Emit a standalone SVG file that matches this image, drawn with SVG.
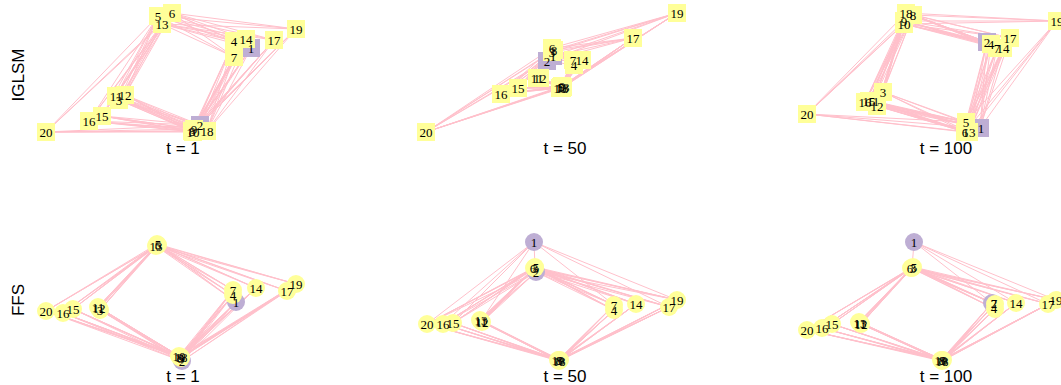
<svg xmlns="http://www.w3.org/2000/svg" width="1061" height="385" viewBox="0 0 1061 385">
<style>
.e{fill:none;stroke:#FFC0CB;stroke-width:1}
.y{fill:#FFFF99}
.v{fill:#BEAED4}
.n{font-family:"Liberation Serif","Times New Roman",serif;font-size:13px;text-anchor:middle;fill:#000}
.t{font-family:"Liberation Sans",Arial,sans-serif;font-size:17px;text-anchor:middle;fill:#000}
</style>
<rect width="1061" height="385" fill="#fff"/>
<text class="t" transform="translate(24,75) rotate(-90)">IGLSM</text>
<text class="t" transform="translate(24,300) rotate(-90)">FFS</text>
<text class="t" x="183" y="154">t = 1</text>
<text class="t" x="565" y="154">t = 50</text>
<text class="t" x="946" y="154">t = 100</text>
<text class="t" x="183" y="382">t = 1</text>
<text class="t" x="565" y="382">t = 50</text>
<text class="t" x="946" y="382">t = 100</text>
<g id="connectors" class="e">
<path d="M251,48L158,16L119,100M234,41L158,16L234,57M116,96L158,16L125,95M246,39L158,16L102,116M89,121L158,16L274,40M296,29L158,16L46,132"/>
<path d="M251,48L172,13L119,100M234,41L172,13L234,57M116,96L172,13L125,95M246,39L172,13L102,116M89,121L172,13L274,40M296,29L172,13L46,132"/>
<path d="M251,48L162,24L119,100M234,41L162,24L234,57M116,96L162,24L125,95M246,39L162,24L102,116M89,121L162,24L274,40M296,29L162,24L46,132"/>
<path d="M251,48L200,125L119,100M234,41L200,125L234,57M116,96L200,125L125,95M246,39L200,125L102,116M89,121L200,125L274,40M296,29L200,125L46,132"/>
<path d="M251,48L192,131L119,100M234,41L192,131L234,57M116,96L192,131L125,95M246,39L192,131L102,116M89,121L192,131L274,40M296,29L192,131L46,132"/>
<path d="M251,48L194,129L119,100M234,41L194,129L234,57M116,96L194,129L125,95M246,39L194,129L102,116M89,121L194,129L274,40M296,29L194,129L46,132"/>
<path d="M251,48L193,132L119,100M234,41L193,132L234,57M116,96L193,132L125,95M246,39L193,132L102,116M89,121L193,132L274,40M296,29L193,132L46,132"/>
<path d="M251,48L207,131L119,100M234,41L207,131L234,57M116,96L207,131L125,95M246,39L207,131L102,116M89,121L207,131L274,40M296,29L207,131L46,132"/>

<path d="M574,65L553,56L573,60M537,78L553,56L540,78M582,60L553,56L518,88M501,94L553,56L633,38M677,13L553,56L426,132"/>
<path d="M574,65L547,61L573,60M537,78L547,61L540,78M582,60L547,61L518,88M501,94L547,61L633,38M677,13L547,61L426,132"/>
<path d="M574,65L552,52L573,60M537,78L552,52L540,78M582,60L552,52L518,88M501,94L552,52L633,38M677,13L552,52L426,132"/>
<path d="M574,65L552,48L573,60M537,78L552,48L540,78M582,60L552,48L518,88M501,94L552,48L633,38M677,13L552,48L426,132"/>
<path d="M574,65L554,50L573,60M537,78L554,50L540,78M582,60L554,50L518,88M501,94L554,50L633,38M677,13L554,50L426,132"/>
<path d="M574,65L561,87L573,60M537,78L561,87L540,78M582,60L561,87L518,88M501,94L561,87L633,38M677,13L561,87L426,132"/>
<path d="M574,65L562,86L573,60M537,78L562,86L540,78M582,60L562,86L518,88M501,94L562,86L633,38M677,13L562,86L426,132"/>
<path d="M574,65L560,88L573,60M537,78L560,88L540,78M582,60L560,88L518,88M501,94L560,88L633,38M677,13L560,88L426,132"/>
<path d="M574,65L563,87L573,60M537,78L563,87L540,78M582,60L563,87L518,88M501,94L563,87L633,38M677,13L563,87L426,132"/>
<path d="M574,65L562,88L573,60M537,78L562,88L540,78M582,60L562,88L518,88M501,94L562,88L633,38M677,13L562,88L426,132"/>

<path d="M987,42L913,15L883,92M991,44L913,15L997,48M873,101L913,15L877,106M1003,48L913,15L869,101M865,102L913,15L1010,38M1057,21L913,15L807,114"/>
<path d="M987,42L904,21L883,92M991,44L904,21L997,48M873,101L904,21L877,106M1003,48L904,21L869,101M865,102L904,21L1010,38M1057,21L904,21L807,114"/>
<path d="M987,42L904,24L883,92M991,44L904,24L997,48M873,101L904,24L877,106M1003,48L904,24L869,101M865,102L904,24L1010,38M1057,21L904,24L807,114"/>
<path d="M987,42L906,13L883,92M991,44L906,13L997,48M873,101L906,13L877,106M1003,48L906,13L869,101M865,102L906,13L1010,38M1057,21L906,13L807,114"/>
<path d="M987,42L980,128L883,92M991,44L980,128L997,48M873,101L980,128L877,106M1003,48L980,128L869,101M865,102L980,128L1010,38M1057,21L980,128L807,114"/>
<path d="M987,42L966,122L883,92M991,44L966,122L997,48M873,101L966,122L877,106M1003,48L966,122L869,101M865,102L966,122L1010,38M1057,21L966,122L807,114"/>
<path d="M987,42L965,132L883,92M991,44L965,132L997,48M873,101L965,132L877,106M1003,48L965,132L869,101M865,102L965,132L1010,38M1057,21L965,132L807,114"/>
<path d="M987,42L969,132L883,92M991,44L969,132L997,48M873,101L969,132L877,106M1003,48L969,132L869,101M865,102L969,132L1010,38M1057,21L969,132L807,114"/>

<path d="M236,302L157,244L100,310M233,295L157,244L233,290M98,307L157,244L99,308M256,288L157,244L73,309M63,313L157,244L287,291M296,284L157,244L46,311"/>
<path d="M236,302L158,245L100,310M233,295L158,245L233,290M98,307L158,245L99,308M256,288L158,245L73,309M63,313L158,245L287,291M296,284L158,245L46,311"/>
<path d="M236,302L156,246L100,310M233,295L156,246L233,290M98,307L156,246L99,308M256,288L156,246L73,309M63,313L156,246L287,291M296,284L156,246L46,311"/>
<path d="M236,302L182,361L100,310M233,295L182,361L233,290M98,307L182,361L99,308M256,288L182,361L73,309M63,313L182,361L287,291M296,284L182,361L46,311"/>
<path d="M236,302L180,357L100,310M233,295L180,357L233,290M98,307L180,357L99,308M256,288L180,357L73,309M63,313L180,357L287,291M296,284L180,357L46,311"/>
<path d="M236,302L181,358L100,310M233,295L181,358L233,290M98,307L181,358L99,308M256,288L181,358L73,309M63,313L181,358L287,291M296,284L181,358L46,311"/>
<path d="M236,302L179,356L100,310M233,295L179,356L233,290M98,307L179,356L99,308M256,288L179,356L73,309M63,313L179,356L287,291M296,284L179,356L46,311"/>
<path d="M236,302L181,357L100,310M233,295L181,357L233,290M98,307L181,357L99,308M256,288L181,357L73,309M63,313L181,357L287,291M296,284L181,357L46,311"/>

<path d="M614,310L536,272L614,305M481,321L536,272L482,322M480,320L536,272L636,304M453,323L536,272L443,324M669,307L536,272L677,300M427,324L536,272"/>
<path d="M614,310L535,268L614,305M481,321L535,268L482,322M480,320L535,268L636,304M453,323L535,268L443,324M669,307L535,268L677,300M427,324L535,268"/>
<path d="M614,310L535,267L614,305M481,321L535,267L482,322M480,320L535,267L636,304M453,323L535,267L443,324M669,307L535,267L677,300M427,324L535,267"/>
<path d="M614,310L534,268L614,305M481,321L534,268L482,322M480,320L534,268L636,304M453,323L534,268L443,324M669,307L534,268L677,300M427,324L534,268"/>
<path d="M614,310L559,360L614,305M481,321L559,360L482,322M480,320L559,360L636,304M453,323L559,360L443,324M669,307L559,360L677,300M427,324L559,360"/>
<path d="M614,310L560,360L614,305M481,321L560,360L482,322M480,320L560,360L636,304M453,323L560,360L443,324M669,307L560,360L677,300M427,324L560,360"/>
<path d="M614,310L558,360L614,305M481,321L558,360L482,322M480,320L558,360L636,304M453,323L558,360L443,324M669,307L558,360L677,300M427,324L558,360"/>
<path d="M614,310L559,361L614,305M481,321L559,361L482,322M480,320L559,361L636,304M453,323L559,361L443,324M669,307L559,361L677,300M427,324L559,361"/>
<path d="M427,324L534,242L443,324M453,323L534,242L481,321M614,305L534,242L669,307M677,300L534,242L535,267"/>

<path d="M992,303L912,268L995,309M995,304L912,268L860,323M861,324L912,268L859,322M1016,303L912,268L832,324M822,328L912,268L1048,304M1056,300L912,268L807,330"/>
<path d="M992,303L913,267L995,309M995,304L913,267L860,323M861,324L913,267L859,322M1016,303L913,267L832,324M822,328L913,267L1048,304M1056,300L913,267L807,330"/>
<path d="M992,303L911,268L995,309M995,304L911,268L860,323M861,324L911,268L859,322M1016,303L911,268L832,324M822,328L911,268L1048,304M1056,300L911,268L807,330"/>
<path d="M992,303L942,360L995,309M995,304L942,360L860,323M861,324L942,360L859,322M1016,303L942,360L832,324M822,328L942,360L1048,304M1056,300L942,360L807,330"/>
<path d="M992,303L943,360L995,309M995,304L943,360L860,323M861,324L943,360L859,322M1016,303L943,360L832,324M822,328L943,360L1048,304M1056,300L943,360L807,330"/>
<path d="M992,303L941,360L995,309M995,304L941,360L860,323M861,324L941,360L859,322M1016,303L941,360L832,324M822,328L941,360L1048,304M1056,300L941,360L807,330"/>
<path d="M992,303L942,361L995,309M995,304L942,361L860,323M861,324L942,361L859,322M1016,303L942,361L832,324M822,328L942,361L1048,304M1056,300L942,361L807,330"/>
<path d="M1048,304L914,242L1056,300M992,303L914,242L1016,303M914,242L912,268"/>
</g>

<g id="iglsm-t1-nodes">
<g id="a1-n1"><rect class="v" x="242" y="39" width="18" height="18"/></g>
<g id="a1-n2"><rect class="v" x="191" y="116" width="18" height="18"/></g>
<g id="a1-n3"><rect class="y" x="110" y="91" width="18" height="18"/></g>
<g id="a1-n4"><rect class="y" x="225" y="32" width="18" height="18"/></g>
<g id="a1-n5"><rect class="y" x="149" y="7" width="18" height="18"/></g>
<g id="a1-n6"><rect class="y" x="163" y="4" width="18" height="18"/></g>
<g id="a1-n7"><rect class="y" x="225" y="48" width="18" height="18"/></g>
<g id="a1-n8"><rect class="y" x="183" y="122" width="18" height="18"/></g>
<g id="a1-n9"><rect class="y" x="185" y="120" width="18" height="18"/></g>
<g id="a1-n10"><rect class="y" x="184" y="123" width="18" height="18"/></g>
<g id="a1-n11"><rect class="y" x="107" y="87" width="18" height="18"/></g>
<g id="a1-n12"><rect class="y" x="116" y="86" width="18" height="18"/></g>
<g id="a1-n13"><rect class="y" x="153" y="15" width="18" height="18"/></g>
<g id="a1-n14"><rect class="y" x="237" y="30" width="18" height="18"/></g>
<g id="a1-n15"><rect class="y" x="93" y="107" width="18" height="18"/></g>
<g id="a1-n16"><rect class="y" x="80" y="112" width="18" height="18"/></g>
<g id="a1-n17"><rect class="y" x="265" y="31" width="18" height="18"/></g>
<g id="a1-n18"><rect class="y" x="198" y="122" width="18" height="18"/></g>
<g id="a1-n19"><rect class="y" x="287" y="20" width="18" height="18"/></g>
<g id="a1-n20"><rect class="y" x="37" y="123" width="18" height="18"/></g>
</g>
<g id="iglsm-t1-labels" class="n">
<text x="251" y="52.5">1</text><text x="200" y="129.5">2</text><text x="119" y="104.5">3</text><text x="234" y="45.5">4</text>
<text x="158" y="20.5">5</text><text x="172" y="17.5">6</text><text x="234" y="61.5">7</text><text x="192" y="135.5">8</text>
<text x="194" y="133.5">9</text><text x="193" y="136.5">10</text><text x="116" y="100.5">11</text><text x="125" y="99.5">12</text>
<text x="162" y="28.5">13</text><text x="246" y="43.5">14</text><text x="102" y="120.5">15</text><text x="89" y="125.5">16</text>
<text x="274" y="44.5">17</text><text x="207" y="135.5">18</text><text x="296" y="33.5">19</text><text x="46" y="136.5">20</text>
</g>

<g id="iglsm-t50-nodes">
<g id="a2-n1"><rect class="v" x="544" y="47" width="18" height="18"/></g>
<g id="a2-n2"><rect class="v" x="538" y="52" width="18" height="18"/></g>
<g id="a2-n3"><rect class="y" x="543" y="43" width="18" height="18"/></g>
<g id="a2-n4"><rect class="y" x="565" y="56" width="18" height="18"/></g>
<g id="a2-n5"><rect class="y" x="552" y="78" width="18" height="18"/></g>
<g id="a2-n6"><rect class="y" x="543" y="39" width="18" height="18"/></g>
<g id="a2-n7"><rect class="y" x="564" y="51" width="18" height="18"/></g>
<g id="a2-n8"><rect class="y" x="545" y="41" width="18" height="18"/></g>
<g id="a2-n9"><rect class="y" x="553" y="77" width="18" height="18"/></g>
<g id="a2-n10"><rect class="y" x="551" y="79" width="18" height="18"/></g>
<g id="a2-n11"><rect class="y" x="528" y="69" width="18" height="18"/></g>
<g id="a2-n12"><rect class="y" x="531" y="69" width="18" height="18"/></g>
<g id="a2-n13"><rect class="y" x="554" y="78" width="18" height="18"/></g>
<g id="a2-n14"><rect class="y" x="573" y="51" width="18" height="18"/></g>
<g id="a2-n15"><rect class="y" x="509" y="79" width="18" height="18"/></g>
<g id="a2-n16"><rect class="y" x="492" y="85" width="18" height="18"/></g>
<g id="a2-n17"><rect class="y" x="624" y="29" width="18" height="18"/></g>
<g id="a2-n18"><rect class="y" x="553" y="79" width="18" height="18"/></g>
<g id="a2-n19"><rect class="y" x="668" y="4" width="18" height="18"/></g>
<g id="a2-n20"><rect class="y" x="417" y="123" width="18" height="18"/></g>
</g>
<g id="iglsm-t50-labels" class="n">
<text x="553" y="60.5">1</text><text x="547" y="65.5">2</text><text x="552" y="56.5">3</text><text x="574" y="69.5">4</text>
<text x="561" y="91.5">5</text><text x="552" y="52.5">6</text><text x="573" y="64.5">7</text><text x="554" y="54.5">8</text>
<text x="562" y="90.5">9</text><text x="560" y="92.5">10</text><text x="537" y="82.5">11</text><text x="540" y="82.5">12</text>
<text x="563" y="91.5">13</text><text x="582" y="64.5">14</text><text x="518" y="92.5">15</text><text x="501" y="98.5">16</text>
<text x="633" y="42.5">17</text><text x="562" y="92.5">18</text><text x="677" y="17.5">19</text><text x="426" y="136.5">20</text>
</g>

<g id="iglsm-t100-nodes">
<g id="a3-n1"><rect class="v" x="971" y="119" width="18" height="18"/></g>
<g id="a3-n2"><rect class="v" x="978" y="33" width="18" height="18"/></g>
<g id="a3-n3"><rect class="y" x="874" y="83" width="18" height="18"/></g>
<g id="a3-n4"><rect class="y" x="982" y="35" width="18" height="18"/></g>
<g id="a3-n5"><rect class="y" x="957" y="113" width="18" height="18"/></g>
<g id="a3-n6"><rect class="y" x="956" y="123" width="18" height="18"/></g>
<g id="a3-n7"><rect class="y" x="988" y="39" width="18" height="18"/></g>
<g id="a3-n8"><rect class="y" x="904" y="6" width="18" height="18"/></g>
<g id="a3-n9"><rect class="y" x="895" y="12" width="18" height="18"/></g>
<g id="a3-n10"><rect class="y" x="895" y="15" width="18" height="18"/></g>
<g id="a3-n11"><rect class="y" x="864" y="92" width="18" height="18"/></g>
<g id="a3-n12"><rect class="y" x="868" y="97" width="18" height="18"/></g>
<g id="a3-n13"><rect class="y" x="960" y="123" width="18" height="18"/></g>
<g id="a3-n14"><rect class="y" x="994" y="39" width="18" height="18"/></g>
<g id="a3-n15"><rect class="y" x="860" y="92" width="18" height="18"/></g>
<g id="a3-n16"><rect class="y" x="856" y="93" width="18" height="18"/></g>
<g id="a3-n17"><rect class="y" x="1001" y="29" width="18" height="18"/></g>
<g id="a3-n18"><rect class="y" x="897" y="4" width="18" height="18"/></g>
<g id="a3-n19"><rect class="y" x="1048" y="12" width="18" height="18"/></g>
<g id="a3-n20"><rect class="y" x="798" y="105" width="18" height="18"/></g>
</g>
<g id="iglsm-t100-labels" class="n">
<text x="981" y="132.5">1</text><text x="987" y="46.5">2</text><text x="883" y="96.5">3</text><text x="991" y="48.5">4</text>
<text x="966" y="126.5">5</text><text x="965" y="136.5">6</text><text x="997" y="52.5">7</text><text x="913" y="19.5">8</text>
<text x="904" y="25.5">9</text><text x="904" y="28.5">10</text><text x="873" y="105.5">11</text><text x="877" y="110.5">12</text>
<text x="969" y="136.5">13</text><text x="1003" y="52.5">14</text><text x="869" y="105.5">15</text><text x="865" y="106.5">16</text>
<text x="1010" y="42.5">17</text><text x="906" y="17.5">18</text><text x="1057" y="25.5">19</text><text x="807" y="118.5">20</text>
</g>

<g id="ffs-t1-nodes">
<g id="b1-n1"><circle class="v" cx="236" cy="302" r="9"/></g>
<g id="b1-n2"><circle class="v" cx="182" cy="361" r="9"/></g>
<g id="b1-n3"><circle class="y" cx="100" cy="310" r="9"/></g>
<g id="b1-n4"><circle class="y" cx="233" cy="295" r="9"/></g>
<g id="b1-n5"><circle class="y" cx="157" cy="244" r="9"/></g>
<g id="b1-n6"><circle class="y" cx="158" cy="245" r="9"/></g>
<g id="b1-n7"><circle class="y" cx="233" cy="290" r="9"/></g>
<g id="b1-n8"><circle class="y" cx="180" cy="357" r="9"/></g>
<g id="b1-n9"><circle class="y" cx="181" cy="358" r="9"/></g>
<g id="b1-n10"><circle class="y" cx="179" cy="356" r="9"/></g>
<g id="b1-n11"><circle class="y" cx="98" cy="307" r="9"/></g>
<g id="b1-n12"><circle class="y" cx="99" cy="308" r="9"/></g>
<g id="b1-n13"><circle class="y" cx="156" cy="246" r="9"/></g>
<g id="b1-n14"><circle class="y" cx="256" cy="288" r="9"/></g>
<g id="b1-n15"><circle class="y" cx="73" cy="309" r="9"/></g>
<g id="b1-n16"><circle class="y" cx="63" cy="313" r="9"/></g>
<g id="b1-n17"><circle class="y" cx="287" cy="291" r="9"/></g>
<g id="b1-n18"><circle class="y" cx="181" cy="357" r="9"/></g>
<g id="b1-n19"><circle class="y" cx="296" cy="284" r="9"/></g>
<g id="b1-n20"><circle class="y" cx="46" cy="311" r="9"/></g>
</g>
<g id="ffs-t1-labels" class="n">
<text x="236" y="306.5">1</text><text x="182" y="365.5">2</text><text x="100" y="314.5">3</text><text x="233" y="299.5">4</text>
<text x="158" y="248.5">5</text><text x="158" y="249.5">6</text><text x="233" y="294.5">7</text><text x="180" y="361.5">8</text>
<text x="181" y="362.5">9</text><text x="179" y="360.5">10</text><text x="98" y="311.5">11</text><text x="99" y="312.5">12</text>
<text x="156" y="250.5">13</text><text x="256" y="292.5">14</text><text x="73" y="313.5">15</text><text x="63" y="317.5">16</text>
<text x="287" y="295.5">17</text><text x="181" y="361.5">18</text><text x="296" y="288.5">19</text><text x="46" y="315.5">20</text>
</g>

<g id="ffs-t50-nodes">
<g id="b2-n1"><circle class="v" cx="534" cy="242" r="9"/></g>
<g id="b2-n2"><circle class="v" cx="536" cy="272" r="9"/></g>
<g id="b2-n3"><circle class="y" cx="535" cy="268" r="9"/></g>
<g id="b2-n4"><circle class="y" cx="614" cy="310" r="9"/></g>
<g id="b2-n5"><circle class="y" cx="535" cy="267" r="9"/></g>
<g id="b2-n6"><circle class="y" cx="534" cy="268" r="9"/></g>
<g id="b2-n7"><circle class="y" cx="614" cy="305" r="9"/></g>
<g id="b2-n8"><circle class="y" cx="559" cy="360" r="9"/></g>
<g id="b2-n9"><circle class="y" cx="560" cy="360" r="9"/></g>
<g id="b2-n10"><circle class="y" cx="558" cy="360" r="9"/></g>
<g id="b2-n11"><circle class="y" cx="481" cy="321" r="9"/></g>
<g id="b2-n12"><circle class="y" cx="482" cy="322" r="9"/></g>
<g id="b2-n13"><circle class="y" cx="480" cy="320" r="9"/></g>
<g id="b2-n14"><circle class="y" cx="636" cy="304" r="9"/></g>
<g id="b2-n15"><circle class="y" cx="453" cy="323" r="9"/></g>
<g id="b2-n16"><circle class="y" cx="443" cy="324" r="9"/></g>
<g id="b2-n17"><circle class="y" cx="669" cy="307" r="9"/></g>
<g id="b2-n18"><circle class="y" cx="559" cy="361" r="9"/></g>
<g id="b2-n19"><circle class="y" cx="677" cy="300" r="9"/></g>
<g id="b2-n20"><circle class="y" cx="427" cy="324" r="9"/></g>
</g>
<g id="ffs-t50-labels" class="n">
<text x="534" y="246.5">1</text><text x="536" y="276.5">2</text><text x="535" y="272.5">3</text><text x="614" y="314.5">4</text>
<text x="536" y="271.5">5</text><text x="533" y="272.5">6</text><text x="614" y="309.5">7</text><text x="559" y="364.5">8</text>
<text x="560" y="364.5">9</text><text x="558" y="364.5">10</text><text x="481" y="325.5">11</text><text x="482" y="326.5">12</text>
<text x="481" y="324.5">13</text><text x="636" y="308.5">14</text><text x="453" y="327.5">15</text><text x="443" y="328.5">16</text>
<text x="669" y="311.5">17</text><text x="559" y="365.5">18</text><text x="677" y="304.5">19</text><text x="427" y="328.5">20</text>
</g>

<g id="ffs-t100-nodes">
<g id="b3-n1"><circle class="v" cx="914" cy="242" r="9"/></g>
<g id="b3-n2"><circle class="v" cx="992" cy="303" r="9"/></g>
<g id="b3-n3"><circle class="y" cx="912" cy="268" r="9"/></g>
<g id="b3-n4"><circle class="y" cx="995" cy="309" r="9"/></g>
<g id="b3-n5"><circle class="y" cx="913" cy="267" r="9"/></g>
<g id="b3-n6"><circle class="y" cx="911" cy="268" r="9"/></g>
<g id="b3-n7"><circle class="y" cx="995" cy="304" r="9"/></g>
<g id="b3-n8"><circle class="y" cx="942" cy="360" r="9"/></g>
<g id="b3-n9"><circle class="y" cx="943" cy="360" r="9"/></g>
<g id="b3-n10"><circle class="y" cx="941" cy="360" r="9"/></g>
<g id="b3-n11"><circle class="y" cx="860" cy="323" r="9"/></g>
<g id="b3-n12"><circle class="y" cx="861" cy="324" r="9"/></g>
<g id="b3-n13"><circle class="y" cx="859" cy="322" r="9"/></g>
<g id="b3-n14"><circle class="y" cx="1016" cy="303" r="9"/></g>
<g id="b3-n15"><circle class="y" cx="832" cy="324" r="9"/></g>
<g id="b3-n16"><circle class="y" cx="822" cy="328" r="9"/></g>
<g id="b3-n17"><circle class="y" cx="1048" cy="304" r="9"/></g>
<g id="b3-n18"><circle class="y" cx="942" cy="361" r="9"/></g>
<g id="b3-n19"><circle class="y" cx="1056" cy="300" r="9"/></g>
<g id="b3-n20"><circle class="y" cx="807" cy="330" r="9"/></g>
</g>
<g id="ffs-t100-labels" class="n">
<text x="914" y="246.5">1</text><text x="994" y="307.5">2</text><text x="913" y="272.5">3</text><text x="994" y="312.5">4</text>
<text x="914" y="271.5">5</text><text x="910" y="272.5">6</text><text x="994" y="307.5">7</text><text x="942" y="364.5">8</text>
<text x="943" y="364.5">9</text><text x="941" y="364.5">10</text><text x="860" y="327.5">11</text><text x="861" y="328.5">12</text>
<text x="860" y="327.5">13</text><text x="1016" y="307.5">14</text><text x="832" y="328.5">15</text><text x="822" y="332.5">16</text>
<text x="1048" y="308.5">17</text><text x="942" y="365.5">18</text><text x="1056" y="304.5">19</text><text x="807" y="334.5">20</text>
</g>
</svg>
